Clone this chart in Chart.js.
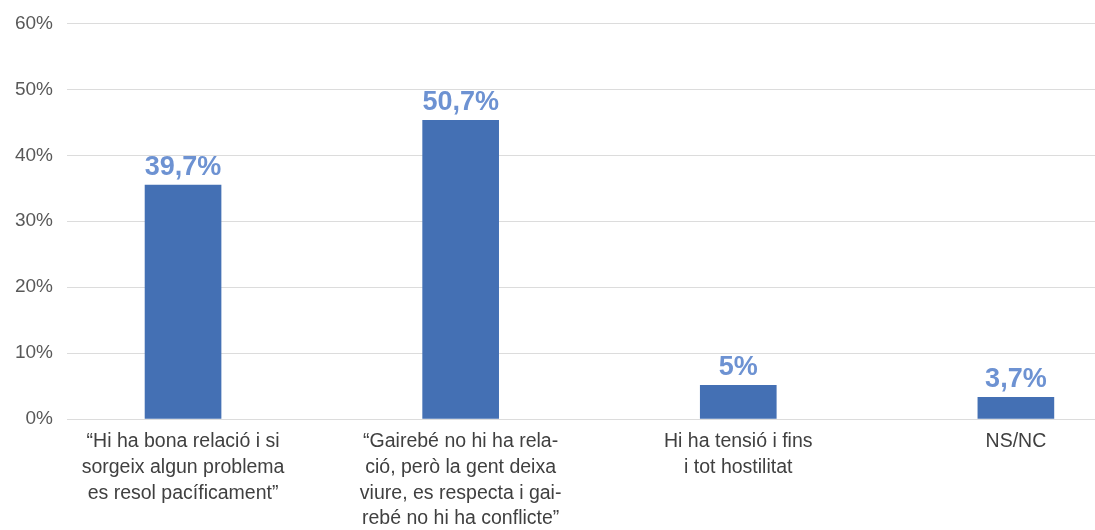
<!DOCTYPE html>
<html>
<head>
<meta charset="utf-8">
<script src="https://cdn.jsdelivr.net/npm/chart.js@4/dist/chart.umd.min.js"></script>
<style>
  html, body { margin: 0; padding: 0; background: #fff; }
  #wrap { width: 1095px; height: 530px; position: relative; }
</style>
</head>
<body>
<div id="wrap"><canvas id="chart"></canvas></div>
<script>
const categories = [
    ['\u201CHi ha bona relació i si', 'sorgeix algun problema', 'es resol pacíficament\u201D'],
    ['\u201CGairebé no hi ha rela-', 'ció, però la gent deixa', 'viure, es respecta i gai-', 'rebé no hi ha conflicte\u201D'],
    ['Hi ha tensió i fins', 'i tot hostilitat'],
    ['NS/NC']
];
// bar heights as drawn in the picture
const barValues = [35.5, 45.3, 5.1, 3.3];
// labels printed above the bars
const valueLabels = ['39,7%', '50,7%', '5%', '3,7%'];
const yTicks = [0, 10, 20, 30, 40, 50, 60];

const FONT = "'Liberation Sans', Arial, Helvetica, sans-serif";

const valueLabelPlugin = {
    id: 'valueLabels',
    afterDatasetsDraw(chart) {
        const ctx = chart.ctx;
        const meta = chart.getDatasetMeta(0);
        ctx.save();
        ctx.font = 'bold 27px ' + FONT;
        ctx.fillStyle = '#6d92d2';
        ctx.textAlign = 'center';
        ctx.textBaseline = 'alphabetic';
        meta.data.forEach((bar, i) => {
            ctx.fillText(valueLabels[i], bar.x, bar.y - 10);
        });
        ctx.restore();
    }
};

new Chart(document.getElementById('chart'), {
    type: 'bar',
    data: {
        datasets: [{
            data: barValues.map((v, i) => ({ x: i, y: v })),
            backgroundColor: '#4470b4',
            barThickness: 76
        }]
    },
    options: {
        responsive: true,
        maintainAspectRatio: false,
        animation: false,
        layout: { padding: { top: 21, right: 0, left: 0, bottom: 0 } },
        plugins: {
            legend: { display: false },
            tooltip: { enabled: false }
        },
        scales: {
            x: {
                type: 'linear',
                offset: false,
                min: -0.418,
                max: 3.285,
                grid: { display: false, drawTicks: false, offset: false },
                border: { display: false },
                afterBuildTicks: scale => {
                    scale.ticks = categories.map((c, i) => ({ value: i }));
                },
                afterFit: scale => { scale.height = 111; },
                ticks: {
                    autoSkip: false,
                    maxRotation: 0,
                    padding: 10,
                    color: '#404040',
                    font: { family: FONT, size: 19.5, lineHeight: 1.32 },
                    callback: value => categories[value]
                }
            },
            y: {
                min: 0,
                max: 60,
                afterBuildTicks: scale => {
                    scale.ticks = yTicks.map(v => ({ value: v }));
                },
                afterFit: scale => { scale.width = 67; },
                grid: { color: '#dcdcdc', lineWidth: 1, drawTicks: false },
                border: { display: false },
                ticks: {
                    padding: 14,
                    color: '#595959',
                    font: { family: FONT, size: 19, lineHeight: 1 },
                    callback: v => v + '%'
                }
            }
        }
    },
    plugins: [valueLabelPlugin]
});
</script>
</body>
</html>
